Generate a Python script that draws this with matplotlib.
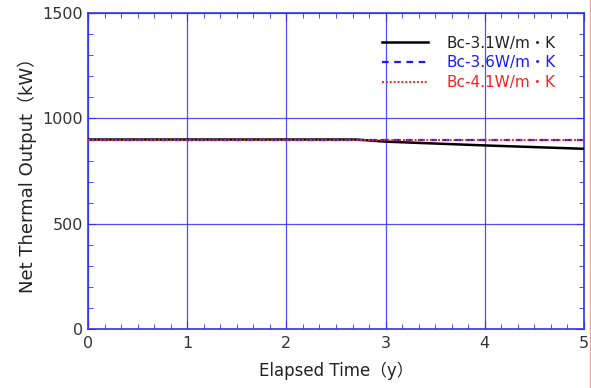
import matplotlib
matplotlib.use("Agg")
import matplotlib.pyplot as plt
from matplotlib.lines import Line2D
from matplotlib.ticker import MultipleLocator

plt.rcParams['font.family'] = ['DejaVu Sans', 'Noto Sans CJK JP']

# --- data ---
years = [0, 1, 2, 2.7, 3, 3.5, 4, 4.5, 5]
bc31 = [900, 900, 900, 900, 890, 881, 872, 864, 856]
bc36 = [900, 900, 900, 900, 900, 900, 900, 900, 900]
bc41 = [900, 900, 900, 900, 900, 900, 900, 900, 900]
labels = ['Bc-3.1W/m・K', 'Bc-3.6W/m・K', 'Bc-4.1W/m・K']

BLUE = '#3333ee'

fig = plt.figure(figsize=(5.91, 3.88), dpi=100)
ax = fig.add_axes([0.149, 0.152, 0.839, 0.814])

ax.plot(years, bc31, color='black', lw=1.8, label=labels[0], zorder=3)
ax.plot(years, bc36, color='#1a1aff', lw=1.6, ls=(0, (3, 2.5)), label=labels[1], zorder=4)
ax.plot(years, bc41, color='#ff2020', lw=1.4, ls=(0, (1, 1)), label=labels[2], zorder=5)

ax.set_xlim(0, 5)
ax.set_ylim(0, 1500)
ax.xaxis.set_major_locator(MultipleLocator(1))
ax.xaxis.set_minor_locator(MultipleLocator(1 / 6))
ax.yaxis.set_major_locator(MultipleLocator(500))
ax.yaxis.set_minor_locator(MultipleLocator(100))
ax.tick_params(which='both', direction='in', color=BLUE, top=True, right=True,
               labelcolor='#333333', labelsize=11.5)
ax.tick_params(which='major', length=6)
ax.tick_params(which='minor', length=3.5)
ax.tick_params(axis='x', pad=5)
for s in ax.spines.values():
    s.set_color(BLUE)
    s.set_linewidth(1.2)
ax.grid(True, which='major', color=BLUE, lw=0.9, alpha=0.85)

ax.set_xlabel('Elapsed Time（y）', fontsize=12, color='#222222', labelpad=8)
ax.set_ylabel('Net Thermal Output（kW）', fontsize=13, color='#222222', labelpad=4)

leg = ax.legend(loc='upper right', frameon=False, fontsize=11,
                handlelength=3.0, handletextpad=1.2, labelspacing=0.3,
                borderaxespad=0.5, bbox_to_anchor=(0.97, 0.972))
for txt, col in zip(leg.get_texts(), ['#222222', '#1a1aff', '#ff2020']):
    txt.set_color(col)

# faint red edge line at the right of the image
fig.add_artist(Line2D([0.998, 0.998], [0, 1], transform=fig.transFigure,
                      color='#f4a0a0', lw=1))

fig.savefig('out.png', dpi=100)
